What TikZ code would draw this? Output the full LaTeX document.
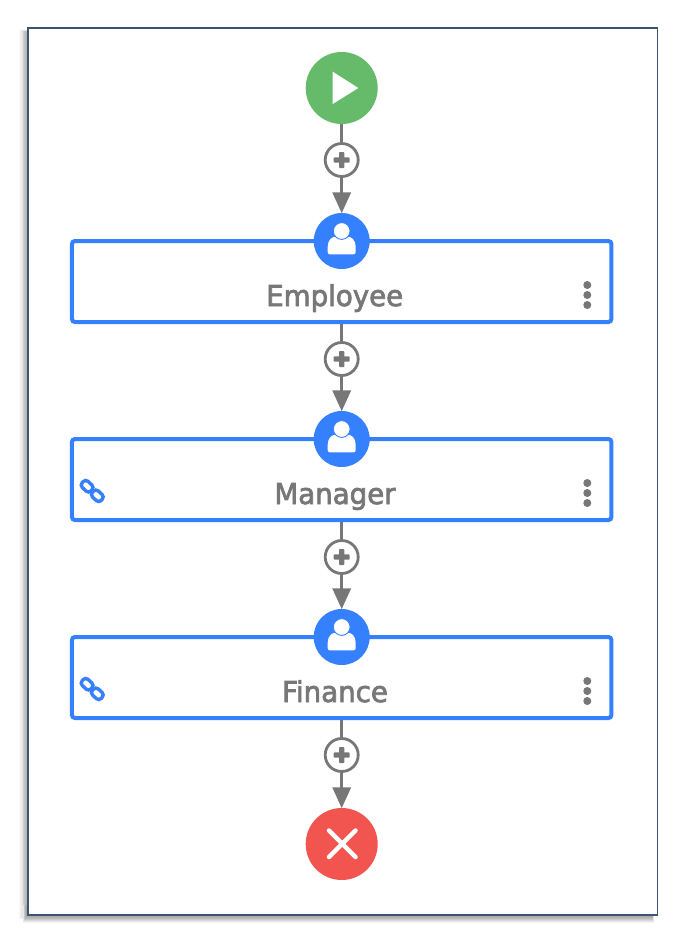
\documentclass[tikz,border=0pt]{standalone}
\usepackage{fontspec}
\setmainfont{DejaVu Sans}
\newfontfamily\labelfont[FakeBold=2.5,FakeStretch=0.96]{DejaVu Sans}
\usetikzlibrary{arrows.meta,calc}
\definecolor{flowblue}{HTML}{3480FF}
\definecolor{flowgray}{HTML}{777777}
\definecolor{startgreen}{HTML}{66BB6A}
\definecolor{endred}{HTML}{F25450}
\definecolor{frameblue}{HTML}{3C5570}
\tikzset{
  taskbox/.style={draw=flowblue,line width=4pt,rounded corners=3pt,fill=white,minimum width=539.5pt,minimum height=81pt,inner sep=0pt},
  terminal/.style={circle,minimum size=72pt,inner sep=0pt},
  avatar/.style={circle,fill=flowblue,minimum size=56pt,inner sep=0pt},
  addbtn/.style={circle,draw=flowgray,line width=2.8pt,fill=white,minimum size=33pt,inner sep=0pt},
  flowline/.style={draw=flowgray,line width=3.4pt},
  flowarrow/.style={flowline,-{Triangle[length=21pt,width=18pt,fill=flowgray]},shorten >=-0.5pt},
  tasklabel/.style={text=flowgray,font=\labelfont\fontsize{28.8}{32}\selectfont,inner sep=0pt,anchor=base},
  menudot/.style={circle,fill=flowgray,minimum size=8pt,inner sep=0pt}
}
\newcommand{\plusmark}[1]{\fill[flowgray,rounded corners=0.8pt] ($(#1)+(-2.6,-8)$) rectangle ($(#1)+(2.6,8)$);\fill[flowgray,rounded corners=0.8pt] ($(#1)+(-8,-2.6)$) rectangle ($(#1)+(8,2.6)$);}
\newcommand{\usermark}[1]{%
  \fill[white] ($(#1)+(-14,11)$) -- ($(#1)+(-14,6)$) .. controls ($(#1)+(-14,-1)$) and ($(#1)+(-10,-4.5)$) .. ($(#1)+(-5,-4.5)$) -- ($(#1)+(5,-4.5)$) .. controls ($(#1)+(10,-4.5)$) and ($(#1)+(14,-1)$) .. ($(#1)+(14,6)$) -- ($(#1)+(14,11)$) .. controls ($(#1)+(14,12.6)$) and ($(#1)+(13,13.4)$) .. ($(#1)+(11.5,13.4)$) -- ($(#1)+(-11.5,13.4)$) .. controls ($(#1)+(-13,13.4)$) and ($(#1)+(-14,12.6)$) .. ($(#1)+(-14,11)$) -- cycle;
  \filldraw[fill=white,draw=flowblue,line width=0.9pt] ($(#1)+(0,-10)$) circle (8.4);
}
\newcommand{\chainmark}[1]{%
  \draw[flowblue,line width=3.4pt,rotate around={-43:(#1)},rounded corners=3.4pt] ($(#1)+(-13,-4.2)$) rectangle ($(#1)+(-1,4.2)$);
  \draw[flowblue,line width=3.4pt,rotate around={-43:(#1)},rounded corners=3.4pt] ($(#1)+(1,-4.2)$) rectangle ($(#1)+(13,4.2)$);
}
\begin{document}
\begin{tikzpicture}[x=1pt,y=-1pt]
\useasboundingbox (0,0) rectangle (685,943);
\fill[white] (0,0) rectangle (685,943);
% soft shadow: left strip, then bottom strip
\foreach \i/\g in {9/97,8/95,7/92,6/89,5/85,4/81,3/77,2/74,1/71,0/68}{
  \fill[black!\the\numexpr 100-\g\relax] (27-\i*0.9,31-\i*0.1) rectangle (40,914+\i*0.6);
}
\foreach \i/\g in {9/96,8/91,7/85,6/79,5/74,4/70,3/67,2/65,1/63,0/62}{
  \fill[black!\the\numexpr 100-\g\relax] (27-\i*0.5,905) rectangle (652+\i*0.2,914+\i);
}
\node[draw=frameblue,line width=1.3pt,fill=white,minimum width=629.5pt,minimum height=887pt,inner sep=0pt,anchor=north west] (frame) at (27.2,27.2) {};

\node[terminal,fill=startgreen] (start) at (341.7,88) {};
\node[taskbox] (b1) at (341.7,281.5) {};
\node[taskbox] (b2) at (341.7,479.5) {};
\node[taskbox] (b3) at (341.7,677.5) {};
\node[avatar] (u1) at (341.7,241) {};
\node[avatar] (u2) at (341.7,439) {};
\node[avatar] (u3) at (341.7,637) {};
\node[addbtn] (p1) at (341.7,160) {};
\node[addbtn] (p2) at (341.7,359) {};
\node[addbtn] (p3) at (341.7,557) {};
\node[addbtn] (p4) at (341.7,755) {};
\node[terminal,fill=endred] (end) at (341.7,844) {};

\draw[flowline] (start) -- (p1);
\draw[flowarrow] (p1) -- (u1);
\draw[flowline] (b1.south) -- (p2);
\draw[flowarrow] (p2) -- (u2);
\draw[flowline] (b2.south) -- (p3);
\draw[flowarrow] (p3) -- (u3);
\draw[flowline] (b3.south) -- (p4);
\draw[flowarrow] (p4) -- (end);

\fill[white] (332.7,71.7) -- (358.3,88) -- (332.7,104) -- cycle;
\foreach \p in {p1,p2,p3,p4}{\plusmark{\p}}
\foreach \u in {u1,u2,u3}{\usermark{\u}}
\draw[white,line width=4.5pt,line cap=round] (329,830.5) -- (355.5,857);
\draw[white,line width=4.5pt,line cap=round] (355.5,830.5) -- (329,857);

\node[tasklabel] (t1) at (334.7,306) {Employee};
\node[tasklabel] (t2) at (335,504) {Manager};
\node[tasklabel] (t3) at (335,702) {Finance};

\foreach \y [count=\n] in {285,295,305,483,493,503,681,691,701}{
  \node[menudot] (d\n) at (587.3,\y) {};
}
\chainmark{92.2,491}
\chainmark{92.2,689}
\end{tikzpicture}
\end{document}
